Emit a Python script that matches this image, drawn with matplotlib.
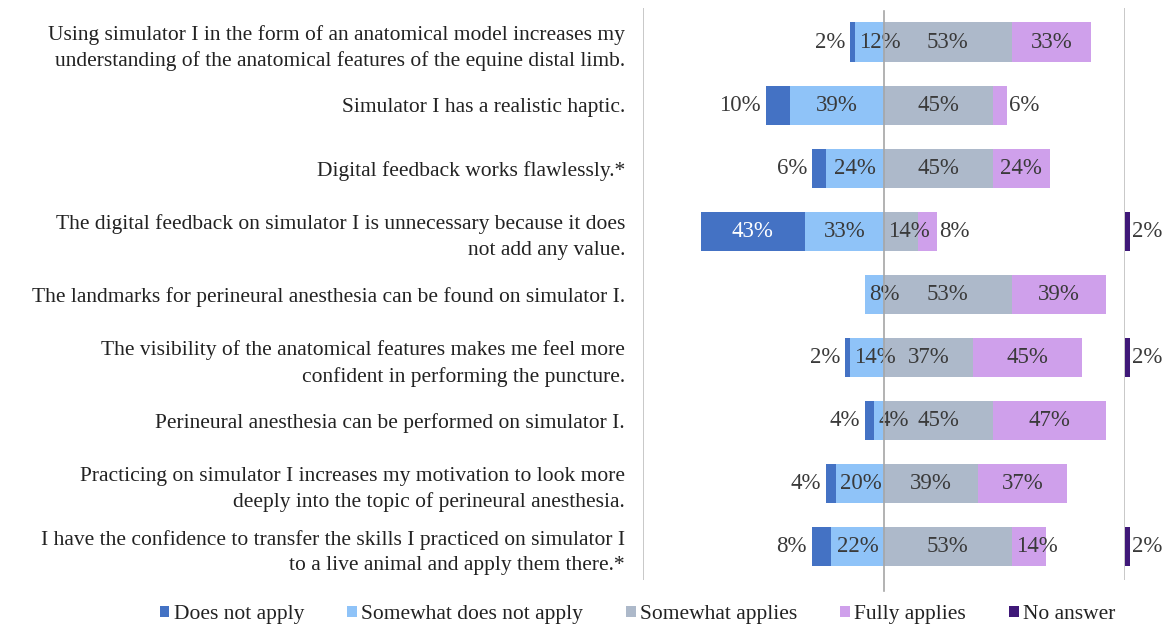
import matplotlib
matplotlib.use('Agg')
import matplotlib.pyplot as plt
from matplotlib.patches import Patch

plt.rcParams['font.family'] = ['Liberation Serif', 'DejaVu Serif']

statements = [
    'Using simulator I in the form of an anatomical model increases my\nunderstanding of the anatomical features of the equine distal limb.',
    'Simulator I has a realistic haptic.',
    'Digital feedback works flawlessly.*',
    'The digital feedback on simulator I is unnecessary because it does\nnot add any value.',
    'The landmarks for perineural anesthesia can be found on simulator I.',
    'The visibility of the anatomical features makes me feel more\nconfident in performing the puncture.',
    'Perineural anesthesia can be performed on simulator I.',
    'Practicing on simulator I increases my motivation to look more\ndeeply into the topic of perineural anesthesia.',
    'I have the confidence to transfer the skills I practiced on simulator I\nto a live animal and apply them there.*',
]

does_not_apply = [2, 10, 6, 43, 0, 2, 4, 4, 8]
somewhat_not = [12, 39, 24, 33, 8, 14, 4, 20, 22]
somewhat_applies = [53, 45, 45, 14, 53, 37, 45, 39, 53]
fully_applies = [33, 6, 24, 8, 39, 45, 47, 37, 14]
no_answer = [0, 0, 0, 2, 0, 2, 0, 0, 2]

legend_names = ['Does not apply', 'Somewhat does not apply', 'Somewhat applies',
                'Fully applies', 'No answer']
colors = ['#4472C4', '#8FC3F8', '#ADB9CA', '#CFA0EB', '#3F1878']

fs = 15.5       # row labels and legend
pfs = 16.5      # percent labels
txt_col = '#3A3A3A'
bar_h = 0.62


def half_width(label):
    # rough half width of a percent label in data units
    return 2.2 * len(label) + 2.2


def inside_label(ax, y, start, value, color=txt_col):
    label = '%d%%' % value
    x = max(start + value / 2.0, start + half_width(label) + 1.5)
    ax.text(x, y, label, ha='center', va='center', fontsize=pfs, color=color)


fig = plt.figure(figsize=(11.7, 6.39), dpi=100)
ax = fig.add_axes([0.5496, 0.0923, 0.412, 0.8952])

rows = list(range(len(statements)))

for i in rows:
    dna, sdna = does_not_apply[i], somewhat_not[i]
    sa, fa, na = somewhat_applies[i], fully_applies[i], no_answer[i]

    if dna > 0:
        ax.barh(i, dna, left=-(sdna + dna), height=bar_h, color=colors[0], lw=0)
    ax.barh(i, sdna, left=-sdna, height=bar_h, color=colors[1], lw=0)
    ax.barh(i, sa, left=0, height=bar_h, color=colors[2], lw=0)
    ax.barh(i, fa, left=sa, height=bar_h, color=colors[3], lw=0)
    if na > 0:
        ax.barh(i, na, left=100, height=bar_h, color=colors[4], lw=0, clip_on=False)

    # does not apply
    if dna >= 20:
        inside_label(ax, i, -(sdna + dna), dna, color='white')
    elif dna > 0:
        ax.text(-(sdna + dna) - 2, i, '%d%%' % dna, ha='right', va='center',
                fontsize=pfs, color=txt_col)
    inside_label(ax, i, -sdna, sdna)
    inside_label(ax, i, 0, sa)
    if fa >= 10:
        inside_label(ax, i, sa, fa)
    else:
        ax.text(sa + fa + 0.8, i, '%d%%' % fa, ha='left', va='center',
                fontsize=pfs, color=txt_col)
    if na > 0:
        ax.text(100 + na + 1, i, '%d%%' % na, ha='left', va='center',
                fontsize=pfs, color=txt_col, clip_on=False)

ax.set_xlim(-100, 100)
ax.set_ylim(8.53, -0.54)

ax.axvline(-100, color='#BFBFBF', lw=1.2)
ax.axvline(100, color='#BFBFBF', lw=1.2)
ax.plot([0, 0], [-0.5, 8.7], color='#A6A6A6', lw=1.2, clip_on=False, zorder=3)

ax.set_yticks(rows)
ax.set_yticklabels(statements, fontsize=fs, color='#222222')
for t in ax.get_yticklabels():
    t.set_linespacing(1.45)
ax.tick_params(axis='y', length=0, pad=13)
ax.set_xticks([])
for s in ax.spines.values():
    s.set_visible(False)

handles = [Patch(facecolor=c, edgecolor='none') for c in colors]
fig.legend(handles, legend_names, loc='center', bbox_to_anchor=(0.545, 0.038),
           ncol=5, frameon=False, fontsize=fs, handlelength=0.45, handleheight=0.45,
           handletextpad=0.2, columnspacing=2.0, labelcolor='#222222')

fig.savefig('out.png', dpi=100)
